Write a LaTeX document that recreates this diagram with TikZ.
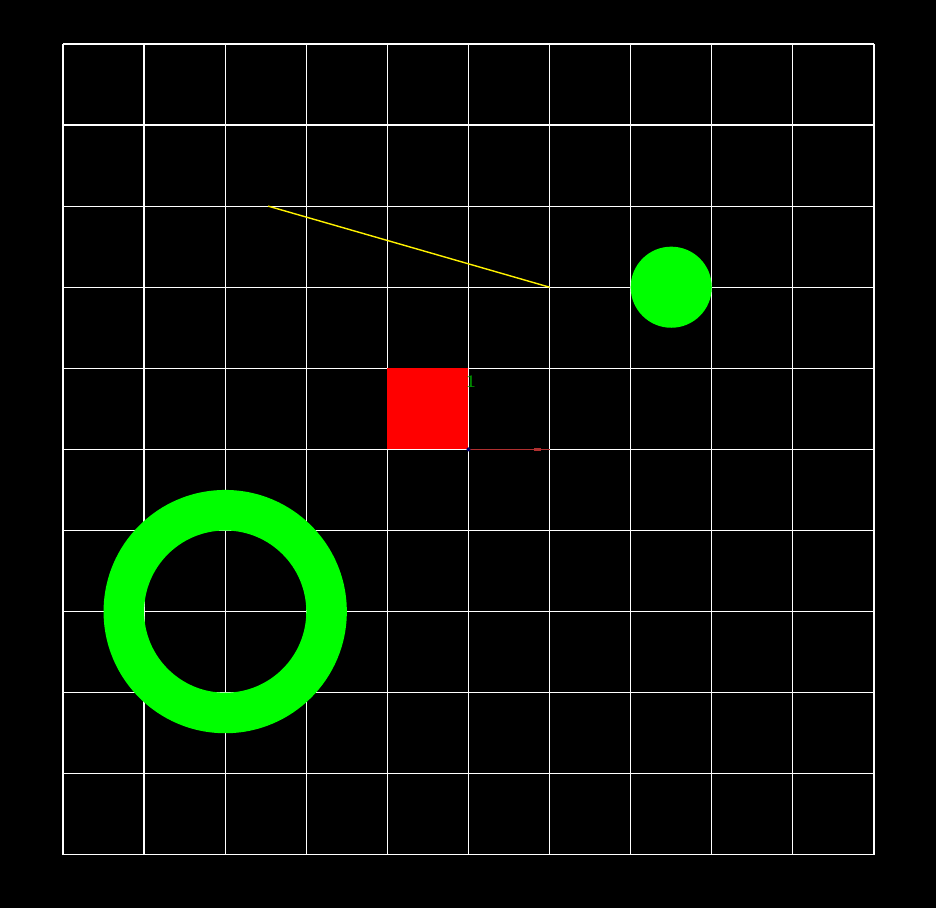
\documentclass[tikz,border=0pt]{standalone}
\usepackage{tikz}
\usetikzlibrary{positioning}
\definecolor{markred}{RGB}{176,48,48}

\begin{document}
\begin{tikzpicture}[
  x=8.11mm, y=8.11mm,
  gridline/.style={draw=white, line width=0.35pt},
  ray/.style={draw=yellow, line width=0.4pt},
  disc/.style={fill=green},
  block/.style={fill=red},
  axisline/.style={draw=markred, line width=0.5pt},
  tick/.style={fill=markred},
  lab/.style={text=green!60!black, font=\fontsize{5}{5}\selectfont, inner sep=0pt}
]
  % background and frame
  \fill[black] (-0.777,-0.654) rectangle (10.765,10.542);
  \useasboundingbox (-0.777,-0.654) rectangle (10.765,10.542);

  % grid
  \foreach \i in {0,...,10} {
    \draw[gridline] (\i,0) -- (\i,10);
    \draw[gridline] (0,\i) -- (10,\i);
  }

  % shapes
  \coordinate (P) at (2.53,8);
  \coordinate (Q) at (6,7);
  \draw[ray] (P) -- (Q);

  \fill[disc] (7.5,7) circle (0.5);
  \fill[disc, even odd rule] (2,3) circle (1.5) (2,3) circle (1.0);

  \fill[block] (4,5) rectangle (5,6);

  % small marker
  \coordinate (O) at (5,5);
  \coordinate (X) at (6,5);
  \draw[axisline] (O) -- (X);
  \fill[tick] (5.81,4.98) rectangle (5.9,5.02);
  \fill[blue!40!black] (O) circle (0.025);
  \node[lab] (one) at (5.03,5.83) {1};
\end{tikzpicture}
\end{document}
